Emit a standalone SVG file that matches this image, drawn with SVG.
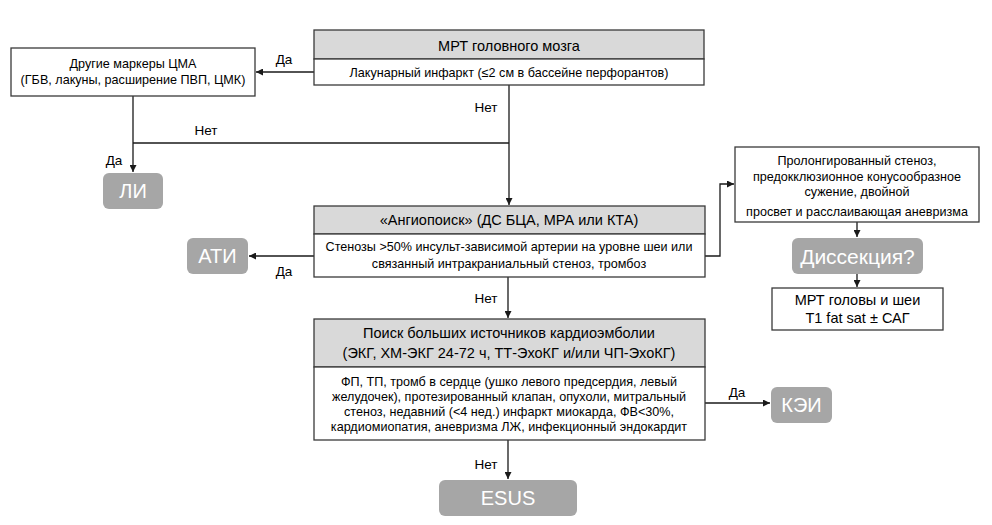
<svg xmlns="http://www.w3.org/2000/svg" width="992" height="525" viewBox="0 0 992 525">
<style>
text{font-family:"Liberation Sans","Noto Sans",Arial,sans-serif;fill:#000;text-anchor:middle}
.t{font-size:12.6px}
.h{font-size:14.5px}
.l{font-size:13.5px}
.box{fill:#fff;stroke:#3a3a3a;stroke-width:1.3}
.hd{fill:#d9d9d9;stroke:#3a3a3a;stroke-width:1.3}
.term{fill:#a6a6a6;stroke:none}
.tt{fill:#fff;font-size:20px}
.c{fill:none;stroke:#1a1a1a;stroke-width:1.3}
</style>
<defs>
<marker id="ah" viewBox="0 0 10 10" refX="10" refY="5" markerWidth="7" markerHeight="7" markerUnits="userSpaceOnUse" orient="auto">
<path d="M0,0 L10,5 L0,10 z" fill="#1a1a1a"/>
</marker>
</defs>
<rect width="992" height="525" fill="#fff"/>

<g id="connectors">
<path class="c" d="M314,72 H256" marker-end="url(#ah)"/>
<path class="c" d="M133,96 V172" marker-end="url(#ah)"/>
<path class="c" d="M133,143 H509"/>
<path class="c" d="M509,85 V205" marker-end="url(#ah)"/>
<path class="c" d="M314,256 H249" marker-end="url(#ah)"/>
<path class="c" d="M705,256 H720 V184 H734" marker-end="url(#ah)"/>
<path class="c" d="M508,277 V318" marker-end="url(#ah)"/>
<path class="c" d="M857,222 V237" marker-end="url(#ah)"/>
<path class="c" d="M857,274 V287" marker-end="url(#ah)"/>
<path class="c" d="M705,403 H770" marker-end="url(#ah)"/>
<path class="c" d="M508,440 V479" marker-end="url(#ah)"/>
<text class="l" x="284" y="64">Да</text>
<text class="l" x="206" y="135">Нет</text>
<text class="l" x="114" y="165">Да</text>
<text class="l" x="486" y="112">Нет</text>
<text class="l" x="284" y="276">Да</text>
<text class="l" x="486" y="303">Нет</text>
<text class="l" x="737" y="397">Да</text>
<text class="l" x="486" y="469">Нет</text>
</g>

<g id="mrt">
<rect class="hd" x="314" y="30" width="390" height="29"/>
<rect class="box" x="314" y="59" width="390" height="26"/>
<text class="h" x="509" y="51">МРТ головного мозга</text>
<text class="t" x="509" y="77">Лакунарный инфаркт (≤2 см в бассейне перфорантов)</text>
</g>

<g id="markers">
<rect class="box" x="11" y="48" width="244" height="48"/>
<text class="t" x="133" y="68">Другие маркеры ЦМА</text>
<text class="t" x="133" y="84">(ГБВ, лакуны, расширение ПВП, ЦМК)</text>
</g>

<g id="li">
<rect class="term" x="103" y="173" width="60" height="36" rx="6"/>
<text class="tt" x="133" y="198">ЛИ</text>
</g>

<g id="angio">
<rect class="hd" x="314" y="206" width="391" height="28"/>
<rect class="box" x="314" y="234" width="391" height="43"/>
<text class="h" x="509" y="225">«Ангиопоиск» (ДС БЦА, МРА или КТА)</text>
<text class="t" x="509" y="251">Стенозы &gt;50% инсульт-зависимой артерии на уровне шеи или</text>
<text class="t" x="509" y="268">связанный интракраниальный стеноз, тромбоз</text>
</g>

<g id="ati">
<rect class="term" x="187" y="238" width="61" height="36" rx="6"/>
<text class="tt" x="217.5" y="263">АТИ</text>
</g>

<g id="dissection-criteria">
<rect class="box" x="735" y="147" width="244" height="75"/>
<text class="t" x="857" y="165">Пролонгированный стеноз,</text>
<text class="t" x="857" y="181">предокклюзионное конусообразное</text>
<text class="t" x="857" y="196">сужение, двойной</text>
<text class="t" x="857" y="216">просвет и расслаивающая аневризма</text>
</g>

<g id="dissection">
<rect class="term" x="792" y="238" width="131" height="36" rx="6"/>
<text class="tt" x="857.5" y="264" style="font-size:21px">Диссекция?</text>
</g>

<g id="mrt-neck">
<rect class="box" x="772" y="288" width="171" height="42"/>
<text class="h" x="857.5" y="305">МРТ головы и шеи</text>
<text class="h" x="857.5" y="323">T1 fat sat ± САГ</text>
</g>

<g id="cardio">
<rect class="hd" x="314" y="319" width="391" height="48"/>
<rect class="box" x="314" y="367" width="391" height="73"/>
<text class="h" x="509" y="338">Поиск больших источников кардиоэмболии</text>
<text class="h" x="509" y="358">(ЭКГ, ХМ-ЭКГ 24-72 ч, ТТ-ЭхоКГ и/или ЧП-ЭхоКГ)</text>
<text class="t" x="509" y="386">ФП, ТП, тромб в сердце (ушко левого предсердия, левый</text>
<text class="t" x="509" y="401">желудочек), протезированный клапан, опухоли, митральный</text>
<text class="t" x="509" y="416">стеноз, недавний (&lt;4 нед.) инфаркт миокарда, ФВ&lt;30%,</text>
<text class="t" x="509" y="431">кардиомиопатия, аневризма ЛЖ, инфекционный эндокардит</text>
</g>

<g id="kei">
<rect class="term" x="771" y="387" width="61" height="36" rx="6"/>
<text class="tt" x="801.5" y="412">КЭИ</text>
</g>

<g id="esus">
<rect class="term" x="439" y="480" width="138" height="36" rx="6"/>
<text class="tt" x="508" y="505">ESUS</text>
</g>
</svg>
